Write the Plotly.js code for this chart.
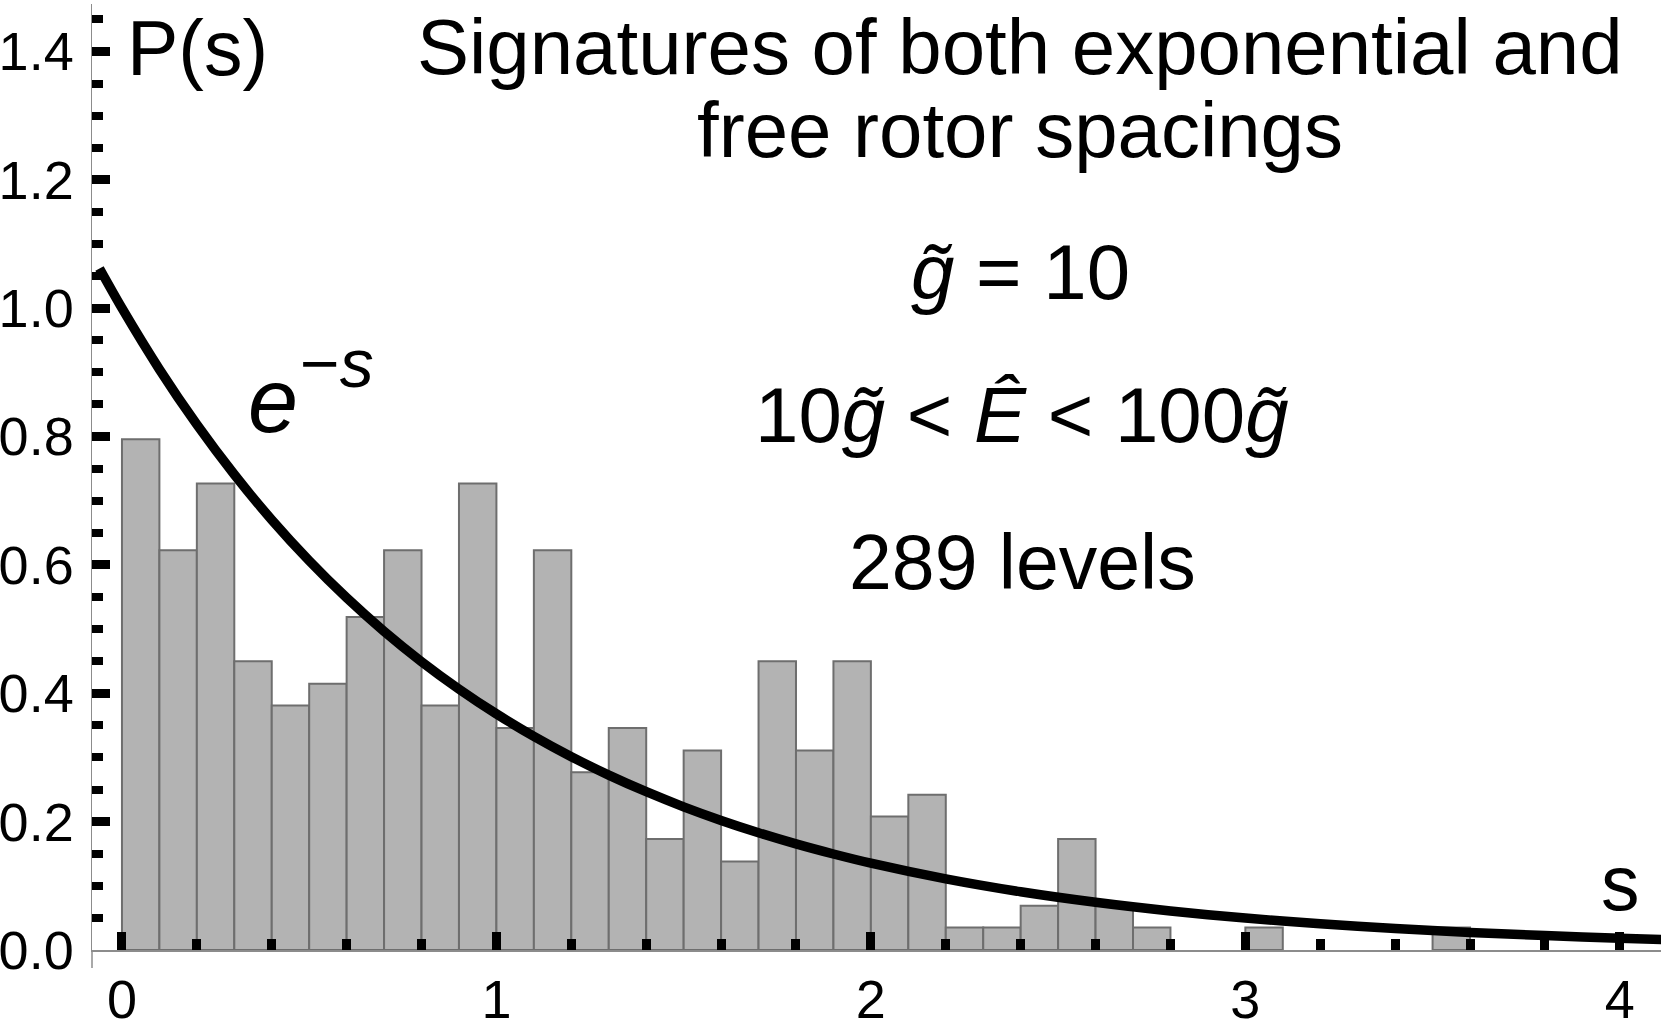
<!DOCTYPE html>
<html>
<head>
<meta charset="utf-8">
<script src="https://cdn.plot.ly/plotly-3.0.1.min.js"></script>
<style>
  html, body { margin: 0; padding: 0; background: #ffffff; }
  #chart { width: 1661px; height: 1033px; }
</style>
</head>
<body>
<div id="chart"></div>
<script>
// Histogram of normalized level spacings (bins of width 0.1, only non-empty bins)
const binStart = [0.0, 0.1, 0.2, 0.3, 0.4, 0.5, 0.6, 0.7, 0.8, 0.9,
                  1.0, 1.1, 1.2, 1.3, 1.4, 1.5, 1.6, 1.7, 1.8, 1.9,
                  2.0, 2.1, 2.2, 2.3, 2.4, 2.5, 2.6, 2.7, 3.0, 3.5];
const density  = [0.796, 0.623, 0.727, 0.450, 0.381, 0.415, 0.519, 0.623, 0.381, 0.727,
                  0.346, 0.623, 0.277, 0.346, 0.173, 0.311, 0.138, 0.450, 0.311, 0.450,
                  0.208, 0.242, 0.035, 0.035, 0.069, 0.173, 0.069, 0.035, 0.035, 0.035];
const binWidth = 0.1;

// Exponential (Poisson) reference curve e^{-s}
const curveS = [-0.06, 0.0, 0.1, 0.2, 0.3, 0.4, 0.5, 0.6, 0.7, 0.8, 0.9, 1.0,
                1.1, 1.2, 1.3, 1.4, 1.5, 1.6, 1.7, 1.8, 1.9, 2.0,
                2.2, 2.4, 2.6, 2.8, 3.0, 3.2, 3.4, 3.6, 3.8, 4.0, 4.2];
const curveP = [1.0618, 1.0000, 0.9048, 0.8187, 0.7408, 0.6703, 0.6065, 0.5488, 0.4966, 0.4493, 0.4066, 0.3679,
                0.3329, 0.3012, 0.2725, 0.2466, 0.2231, 0.2019, 0.1827, 0.1653, 0.1496, 0.1353,
                0.1108, 0.0907, 0.0743, 0.0608, 0.0498, 0.0408, 0.0334, 0.0273, 0.0224, 0.0183, 0.0150];

// Tick labels
const yTickVals = [0.0, 0.2, 0.4, 0.6, 0.8, 1.0, 1.2, 1.4];
const yTickText = ["0.0", "0.2", "0.4", "0.6", "0.8", "1.0", "1.2", "1.4"];
const xTickVals = [0, 1, 2, 3, 4];
const xTickText = ["0", "1", "2", "3", "4"];

const FONT = "Liberation Sans, Arial, Helvetica, sans-serif";

const bars = {
  type: "bar",
  x: binStart.map(b => b + binWidth / 2),
  y: density,
  width: binWidth,
  marker: { color: "#b3b3b3", line: { color: "#6e6e6e", width: 2 } },
  hoverinfo: "skip",
  showlegend: false
};

const curve = {
  type: "scatter",
  mode: "lines",
  x: curveS,
  y: curveP,
  line: { color: "#000000", width: 9.5, shape: "spline", smoothing: 0.8 },
  hoverinfo: "skip",
  showlegend: false
};

function ann(text, x, y, size, xanchor) {
  return { text: text, xref: "paper", yref: "paper", x: x, y: y,
           xanchor: xanchor || "center", yanchor: "middle", showarrow: false,
           font: { family: FONT, size: size, color: "#000000" }, borderpad: 0 };
}

const layout = {
  width: 1661, height: 1033,
  margin: { l: 92, r: 0, t: 4, b: 83, pad: 0 },
  paper_bgcolor: "#ffffff", plot_bgcolor: "#ffffff",
  bargap: 0,
  font: { family: FONT, color: "#000000" },
  xaxis: {
    range: [-0.08, 4.11],
    tickmode: "array", tickvals: xTickVals, ticktext: xTickText,
    ticks: "inside", ticklen: 18, tickwidth: 9, tickcolor: "#000000",
    minor: { tickmode: "linear", tick0: 0, dtick: 0.2, ticks: "inside", ticklen: 11, tickwidth: 9, tickcolor: "#000000" },
    showline: true, linecolor: "#8c8c8c", linewidth: 1.5,
    showgrid: false, zeroline: false,
    tickfont: { family: FONT, size: 54, color: "#000000" },
    ticklabelstandoff: 2
  },
  yaxis: {
    range: [0, 1.474],
    tickmode: "array", tickvals: yTickVals, ticktext: yTickText,
    ticks: "inside", ticklen: 18, tickwidth: 9, tickcolor: "#000000",
    minor: { tickmode: "linear", tick0: 0, dtick: 0.05, ticks: "inside", ticklen: 11, tickwidth: 8, tickcolor: "#000000" },
    showline: true, linecolor: "#8c8c8c", linewidth: 1.5,
    showgrid: false, zeroline: false,
    tickfont: { family: FONT, size: 54, color: "#000000" },
    ticklabelstandoff: 6
  },
  shapes: [
    { type: "line", xref: "paper", yref: "paper", x0: 0, x1: 0, y0: 0, y1: -0.019,
      line: { color: "#8c8c8c", width: 1.5 } }
  ],
  annotations: [
    ann("Signatures of both exponential and", 0.5915, 0.9545, 78),
    ann("free rotor spacings", 0.5915, 0.8671, 78),
    ann("<i>g\u0303</i> = 10", 0.5915, 0.7171, 78),
    ann("10<i>g\u0303</i> &lt; <i>\u00CA</i> &lt; 100<i>g\u0303</i>", 0.5927, 0.5655, 78),
    ann("289 levels", 0.5931, 0.4106, 77),
    ann("P(s)", 0.0217, 0.9535, 77, "left"),
    ann("s", 0.9739, 0.0708, 77),
    ann("<i>e</i>", 0.0988, 0.5805, 90, "left"),
    ann("\u2212<i>s</i>", 0.1319, 0.6200, 68, "left")
  ]
};

Plotly.newPlot("chart", [bars, curve], layout, { staticPlot: true, displayModeBar: false });
</script>
</body>
</html>
